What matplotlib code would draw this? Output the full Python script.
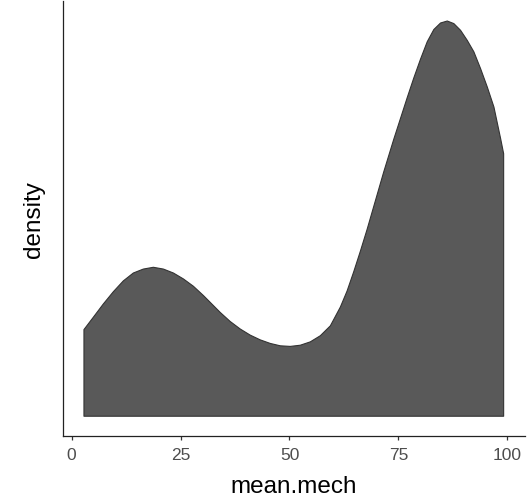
#!/usr/bin/env python

import numpy as np
import matplotlib
matplotlib.use('Agg')
import matplotlib.pyplot as plt

# density curve (x = mean.mech, y = density)
mean_mech = [2.83, 4.97, 7.26, 9.56, 11.86, 14.16, 16.46, 18.76, 21.06, 23.36,
             25.66, 27.95, 30.25, 31.79, 34.09, 36.39, 38.69, 40.99, 43.29, 45.59,
             47.89, 50.18, 52.48, 54.78, 57.08, 59.38, 61.68, 63.22, 64.74, 66.28,
             67.82, 69.33, 71.63, 73.93, 75.47, 77.01, 78.53, 80.07, 81.61, 83.13,
             84.67, 86.21, 87.72, 89.26, 90.80, 92.32, 93.86, 95.40, 96.92, 98.46,
             99.15]
density = [0.00438, 0.00500, 0.00567, 0.00629, 0.00684, 0.00724, 0.00744, 0.00753,
           0.00744, 0.00724, 0.00694, 0.00657, 0.00610, 0.00576, 0.00525, 0.00479,
           0.00441, 0.00410, 0.00386, 0.00368, 0.00356, 0.00353, 0.00359, 0.00376,
           0.00407, 0.00457, 0.00552, 0.00633, 0.00730, 0.00835, 0.00945, 0.01060,
           0.01235, 0.01400, 0.01505, 0.01610, 0.01710, 0.01805, 0.01893, 0.01955,
           0.01988, 0.01998, 0.01985, 0.01951, 0.01900, 0.01842, 0.01757, 0.01664,
           0.01563, 0.01403, 0.01327]
x_ticks = [0, 25, 50, 75, 100]

plt.rcParams['font.family'] = ['Liberation Sans', 'DejaVu Sans']

fig = plt.figure(figsize=(5.27, 5.02), dpi=100)
ax = fig.add_axes([0.1195, 0.1295, 0.876, 0.866])

x = np.array(mean_mech)
y = np.array(density)

# closed polygon like ggplot's geom_density (outline goes round the bottom too)
poly_x = np.concatenate([[x[0]], x, [x[-1]]])
poly_y = np.concatenate([[0], y, [0]])
ax.fill(poly_x, poly_y, facecolor='#595959', edgecolor='#333333', lw=0.8,
        joinstyle='round', closed=True)

# ggplot default 5% expansion
xr = x.max() - x.min()
ax.set_xlim(x.min() - 0.05 * xr, x.max() + 0.05 * xr)
ax.set_ylim(-0.05 * y.max(), 1.05 * y.max())

ax.spines['top'].set_visible(False)
ax.spines['right'].set_visible(False)
for s in ('left', 'bottom'):
	ax.spines[s].set_color('#222222')
	ax.spines[s].set_linewidth(0.9)

ax.set_xticks(x_ticks)
ax.set_xticklabels([str(t) for t in x_ticks])
ax.tick_params(axis='x', length=3.2, width=0.9, color='#333333', pad=5,
               labelsize=12.5, labelcolor='#4D4D4D')
ax.set_yticks([])

ax.set_xlabel('mean.mech', fontsize=17.5, color='black', labelpad=9)
ax.set_ylabel('density', fontsize=17.5, color='black', labelpad=13)

fig.savefig('out.png', dpi=100)
